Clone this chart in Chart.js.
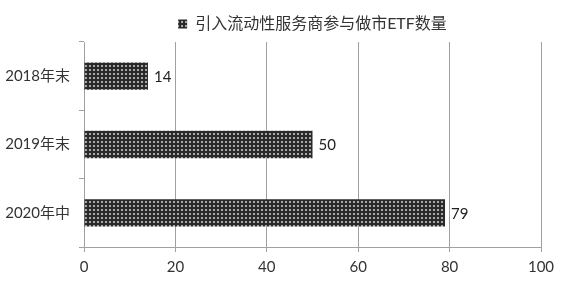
<!DOCTYPE html>
<html><head><meta charset="utf-8">
<script src="https://cdn.jsdelivr.net/npm/chart.js@4"></script>
<style>html,body{margin:0;padding:0;background:#fff}#w{width:571px;height:282px}</style>
</head><body><div id="w"><canvas id="c" width="571" height="282"></canvas></div>
<script>
const categories = ['2018年末', '2019年末', '2020年中'];
const seriesName = '引入流动性服务商参与做市ETF数量';
const values = [14, 50, 79];
const xTicks = [0, 20, 40, 60, 80, 100];

const FONT = "Lato, 'Noto Sans CJK SC', sans-serif";

function makePattern() {
  const t = document.createElement('canvas');
  t.width = 4; t.height = 4;
  const g = t.getContext('2d');
  g.fillStyle = '#2a2a2a'; g.fillRect(0, 0, 4, 4);
  g.fillStyle = '#a8a8a8'; g.fillRect(1, 1, 2, 2);
  return document.getElementById('c').getContext('2d').createPattern(t, 'repeat');
}
const pat = makePattern();

const labelPlugin = {
  id: 'vals',
  afterDatasetsDraw(chart) {
    const ctx = chart.ctx;
    const meta = chart.getDatasetMeta(0);
    ctx.save();
    ctx.font = "15px " + FONT;
    ctx.fillStyle = '#222';
    ctx.textBaseline = 'middle';
    ctx.textAlign = 'left';
    meta.data.forEach((bar, i) => {
      ctx.fillText(String(values[i]), bar.x + 6, bar.y + 1);
    });
    ctx.restore();
  }
};

new Chart(document.getElementById('c'), {
  type: 'bar',
  data: {
    labels: categories,
    datasets: [{
      label: seriesName,
      data: values,
      backgroundColor: pat,
      borderWidth: 0,
      barPercentage: 0.8,
      categoryPercentage: 0.5
    }]
  },
  options: {
    indexAxis: 'y',
    responsive: false,
    animation: false,
    layout: { padding: { left: 0, right: 30, top: 5, bottom: 0 } },
    plugins: {
      legend: {
        display: true,
        position: 'top',
        fullSize: false,
        labels: {
          boxWidth: 9, boxHeight: 9, padding: 11,
          color: '#333',
          font: { size: 16, family: FONT }
        }
      },
      tooltip: { enabled: false }
    },
    scales: {
      x: {
        min: 0, max: 100,
        afterBuildTicks(axis) { axis.ticks = xTicks.map(v => ({ value: v })); },
        grid: { color: '#a0a0a0', lineWidth: 1, tickLength: 5, drawTicks: true },
        border: { color: '#a0a0a0' },
        ticks: { color: '#333', font: { size: 15, family: FONT }, padding: 6 }
      },
      y: {
        afterFit(axis) { axis.width = 84; },
        grid: { drawOnChartArea: false, color: '#a0a0a0', tickLength: 5 },
        border: { color: '#a0a0a0' },
        ticks: { color: '#333', font: { size: 15, family: FONT }, padding: 9 }
      }
    }
  },
  plugins: [labelPlugin]
});
</script>
</body></html>
